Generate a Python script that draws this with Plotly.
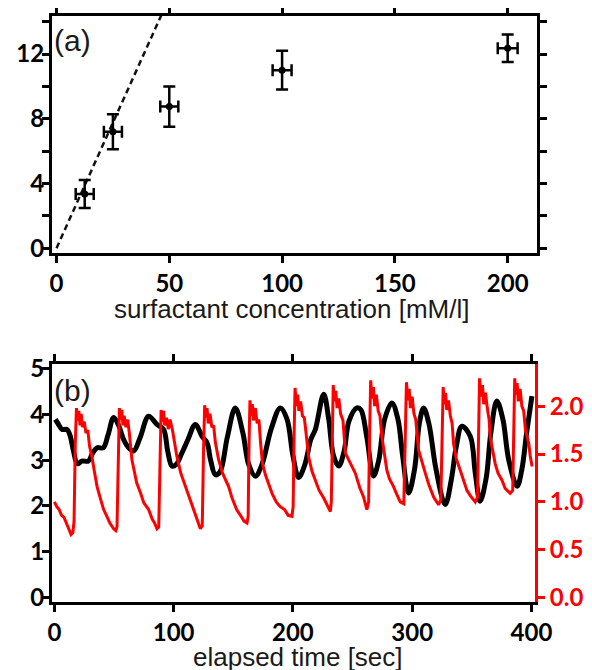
import plotly.graph_objects as go

# ---------------- data: panel (a) ----------------
conc = [12.5, 25, 50, 100, 200]
val_a = [3.35, 7.2, 8.75, 11.0, 12.35]
err_y_a = [0.87, 1.08, 1.24, 1.2, 0.85]
err_x_a = [4, 4, 4, 4.2, 4.4]
fit_x = [0, 50]
fit_y = [0, 15.5]

# ---------------- data: panel (b) ----------------
black_t = [0.8, 3, 6.5, 10.6, 13, 16, 19.3, 23, 28.5, 32, 35.8, 41, 45, 49.7, 54, 58, 62, 66.5, 72, 79,
           86, 91.6, 95, 98.6, 102, 107, 112, 118.2, 123.8, 128, 131, 135, 139, 145, 151.7, 158, 163,
           168.5, 174, 182, 189.4, 195, 200, 204.8, 210, 215, 218.8, 225.8, 230, 234, 238.4, 243, 247,
           253.7, 257, 262, 267.6, 272, 277, 283, 288, 292, 297, 302, 306, 309.6, 314, 320, 327.7, 333,
           337, 341.7, 348.7, 353, 357, 362, 366, 371, 376, 381, 388, 392, 396, 400.4]
black_v = [3.89, 3.8, 3.67, 3.67, 3.55, 3.2, 2.92, 2.98, 2.98, 3.15, 3.27, 3.27, 3.55, 3.93, 3.75, 3.45,
           3.28, 3.2, 3.5, 3.96, 3.78, 3.67, 3.2, 2.87, 2.9, 3.16, 3.45, 3.78, 3.52, 3.38, 3.0, 2.68, 2.75,
           3.5, 4.14, 3.6, 2.9, 2.65, 2.9, 3.7, 4.14, 3.9, 3.1, 2.62, 2.9, 3.45, 3.67, 4.44, 3.9, 3.1, 2.87,
           3.2, 3.85, 4.14, 4.1, 3.5, 2.65, 3.0, 3.9, 4.25, 3.9, 3.1, 2.28, 2.8, 3.8, 4.14, 3.8, 2.8, 2.03,
           2.6, 3.3, 3.74, 3.52, 2.7, 2.1, 2.6, 3.6, 4.29, 3.9, 3.0, 2.43, 2.8, 3.6, 4.4]

red_t = [0, 2, 4, 6, 8, 10, 12, 14, 15.5, 16.5, 17.5, 18.5, 19.5, 20.5, 21.5, 22.5, 23.5, 25, 26.5, 28,
         29.5, 31.5, 33.5, 35.8, 38, 41.3, 44, 46.5, 49.7, 51.5, 52.5,
         53.5, 54.5, 55.5, 56.5, 57.5, 58.5, 60, 61.5, 63, 65, 67, 69, 72.3, 75, 79, 82, 84, 86, 87.5,
         88.5, 89.5, 90.5, 91.5, 92.5, 94, 95.5, 97, 99, 100.5, 102.8, 106, 109.8, 113, 116.8, 119, 122.4, 124,
         125, 126, 127, 128, 129, 130.5, 132, 133.5, 135, 137.7, 141, 146.1, 149, 152.8, 156, 159, 161.5, 162.5,
         163.2, 164, 165, 166, 167, 168.5, 170, 171.5, 173, 174.5, 177, 182.5, 186, 189.4, 193, 196, 199.2, 200.2,
         201, 201.8, 203, 204, 205, 206.5, 208, 209.5, 210.4, 213.2, 216, 218.8, 222, 225.8, 229, 231.4, 232.2,
         233, 233.8, 235, 236, 237, 238.5, 240, 242, 244, 248, 252.3, 256, 259.3, 262, 263.5,
         264.3, 265.2, 266.5, 267.5, 268.5, 270, 271.5, 273, 274.6, 278.8, 281, 284.4, 287, 290, 293,
         294.2, 295.2, 296.5, 297.5, 298.5, 300, 301.5, 303, 305.4, 308, 311, 314, 318, 322.1, 324,
         325, 326, 327, 328, 329, 330.5, 332, 333.5, 334.7, 337, 340.3, 343, 345.9, 349, 352.9, 354.8,
         355.6, 356.5, 358, 359, 360, 361.5, 363, 364.5, 365.4, 369.6, 372, 375.2, 378, 382.2, 384.3,
         385, 386, 387, 388, 389, 390.5, 392, 393.5, 395, 397.8, 399, 400.6]
red_v = [1.0, 0.95, 0.92, 0.86, 0.84, 0.78, 0.74, 0.66, 0.68, 0.80, 1.6, 1.98, 1.85, 1.95, 1.80, 1.92, 1.78, 1.84, 1.72, 1.75,
         1.58, 1.47, 1.32, 1.16, 1.06, 0.92, 0.85, 0.78, 0.72, 0.70, 0.74,
         1.3, 1.98, 1.86, 1.96, 1.80, 1.90, 1.78, 1.86, 1.70, 1.44, 1.32, 1.20, 1.09, 0.99, 0.92, 0.82, 0.78, 0.72, 0.74,
         1.4, 1.96, 1.84, 1.95, 1.80, 1.88, 1.76, 1.86, 1.75, 1.62, 1.47, 1.30, 1.16, 1.04, 0.92, 0.84, 0.72, 0.75,
         1.5, 2.01, 1.88, 1.98, 1.82, 1.92, 1.78, 1.80, 1.62, 1.44, 1.30, 1.16, 1.04, 0.92, 0.86, 0.80, 0.78, 0.85,
         1.6, 2.06, 1.90, 2.02, 1.85, 1.98, 1.82, 1.86, 1.60, 1.40, 1.28, 1.09, 1.00, 0.95, 0.92, 0.86, 0.85, 0.95,
         1.7, 2.19, 2.00, 2.12, 1.95, 2.05, 1.90, 1.88, 1.79, 1.47, 1.32, 1.23, 1.12, 1.04, 0.96, 0.90, 1.0,
         1.7, 2.22, 2.05, 2.16, 1.98, 2.08, 1.92, 1.85, 1.51, 1.40, 1.30, 1.15, 1.05, 0.92, 1.0,
         1.7, 2.27, 2.08, 2.20, 2.00, 2.12, 1.95, 1.90, 1.68, 1.33, 1.24, 1.16, 1.08, 1.00, 0.98,
         1.6, 2.25, 2.06, 2.18, 1.98, 2.10, 1.92, 1.86, 1.54, 1.42, 1.30, 1.18, 1.05, 0.97, 1.02,
         1.6, 2.20, 2.02, 2.14, 1.96, 2.06, 1.90, 1.82, 1.61, 1.45, 1.33, 1.22, 1.12, 1.06, 1.00, 1.05,
         1.7, 2.29, 2.10, 2.22, 2.02, 2.14, 1.98, 1.86, 1.68, 1.40, 1.30, 1.23, 1.14, 1.09, 1.12,
         1.7, 2.29, 2.12, 2.24, 2.05, 2.18, 2.00, 1.95, 1.75, 1.61, 1.48, 1.37]

a_xticks = [0, 50, 100, 150, 200]
a_yticks = [0, 2, 4, 6, 8, 10, 12, 14]
a_yticktext = ["0", "", "4", "", "8", "", "12", ""]
b_xticks = [0, 100, 200, 300, 400]
b_yticks = [0, 1, 2, 3, 4, 5]
b_y2ticks = [0.0, 0.5, 1.0, 1.5, 2.0]
b_y2ticktext = ["0.0", "0.5", "1.0", "1.5", "2.0"]

W, H = 592, 670
OFF = 8  # page body margin offset
RED = "#ff0000"
TICKFONT = dict(family="Lato", size=24, color="black", weight="bold")
TITLEFONT = dict(family="Liberation Sans", size=26, color="#1a1a1a")

fig = go.Figure()

fig.add_trace(go.Scatter(x=fit_x, y=fit_y, mode="lines", xaxis="x", yaxis="y",
                         line=dict(color="#111", width=2.5, dash="6px,4px"),
                         showlegend=False, hoverinfo="skip"))
fig.add_trace(go.Scatter(x=conc, y=val_a, mode="markers", xaxis="x", yaxis="y",
                         marker=dict(color="black", size=7),
                         error_y=dict(type="data", array=err_y_a, color="black", thickness=2.5, width=6),
                         error_x=dict(type="data", array=err_x_a, color="black", thickness=2.5, width=6),
                         showlegend=False))

fig.add_trace(go.Scatter(x=red_t, y=red_v, mode="lines", xaxis="x2", yaxis="y3",
                         line=dict(color=RED, width=3), showlegend=False))
fig.add_trace(go.Scatter(x=black_t, y=black_v, mode="lines", xaxis="x2", yaxis="y2",
                         line=dict(color="black", width=5, shape="spline", smoothing=1.0),
                         showlegend=False))

px = lambda p: (p - OFF) / W
py = lambda p: 1 - (p - OFF) / H

axis_common = dict(showline=True, linewidth=3, linecolor="black", ticks="outside",
                   ticklen=7, tickwidth=2.5, tickcolor="black", showgrid=False, zeroline=False,
                   tickfont=TICKFONT, automargin=False)

fig.update_layout(
    width=W, height=H, margin=dict(l=0, r=0, t=0, b=0, autoexpand=False),
    paper_bgcolor="white", plot_bgcolor="white",
    xaxis=dict(domain=[px(52), px(537)], range=[-2, 213], anchor="y",
               tickvals=a_xticks, mirror="ticks", **axis_common),
    yaxis=dict(domain=[py(253), py(16)], range=[-0.3, 14.35], anchor="x",
               tickvals=a_yticks, ticktext=a_yticktext, mirror="ticks",
               ticklabelstandoff=-7, **axis_common),
    xaxis2=dict(domain=[px(52), px(535)], range=[-2, 403], anchor="y2",
                tickvals=b_xticks, mirror="ticks", **axis_common),
    yaxis2=dict(domain=[py(602), py(364)], range=[-0.1, 5.1], anchor="x2",
                tickvals=b_yticks, mirror=False, ticklabelstandoff=-7, **axis_common),
    yaxis3=dict(domain=[py(602), py(364)], range=[-0.045, 2.44], anchor="x2", overlaying="y2",
                side="right", showline=True, linewidth=3, linecolor=RED, ticks="outside",
                ticklen=7, tickwidth=2.5, tickcolor=RED, showgrid=False, zeroline=False,
                tickvals=b_y2ticks, ticktext=b_y2ticktext, automargin=False,
                tickfont=dict(family="Lato", size=24, color=RED, weight="bold")),
    annotations=[
        dict(text="(a)", x=px(52), y=py(40), xref="paper", yref="paper", xanchor="left",
             yanchor="middle", showarrow=False, font=dict(family="Liberation Sans", size=30, color="#1a1a1a")),
        dict(text="(b)", x=px(52), y=py(390), xref="paper", yref="paper", xanchor="left",
             yanchor="middle", showarrow=False, font=dict(family="Liberation Sans", size=30, color="#1a1a1a")),
        dict(text="surfactant concentration [mM/l]", x=px(291), y=py(309), xref="paper", yref="paper",
             xanchor="center", yanchor="middle", showarrow=False, font=TITLEFONT),
        dict(text="elapsed time [sec]", x=px(298), y=py(657), xref="paper", yref="paper",
             xanchor="center", yanchor="middle", showarrow=False, font=TITLEFONT),
    ],
)

fig.write_html("out.html")
